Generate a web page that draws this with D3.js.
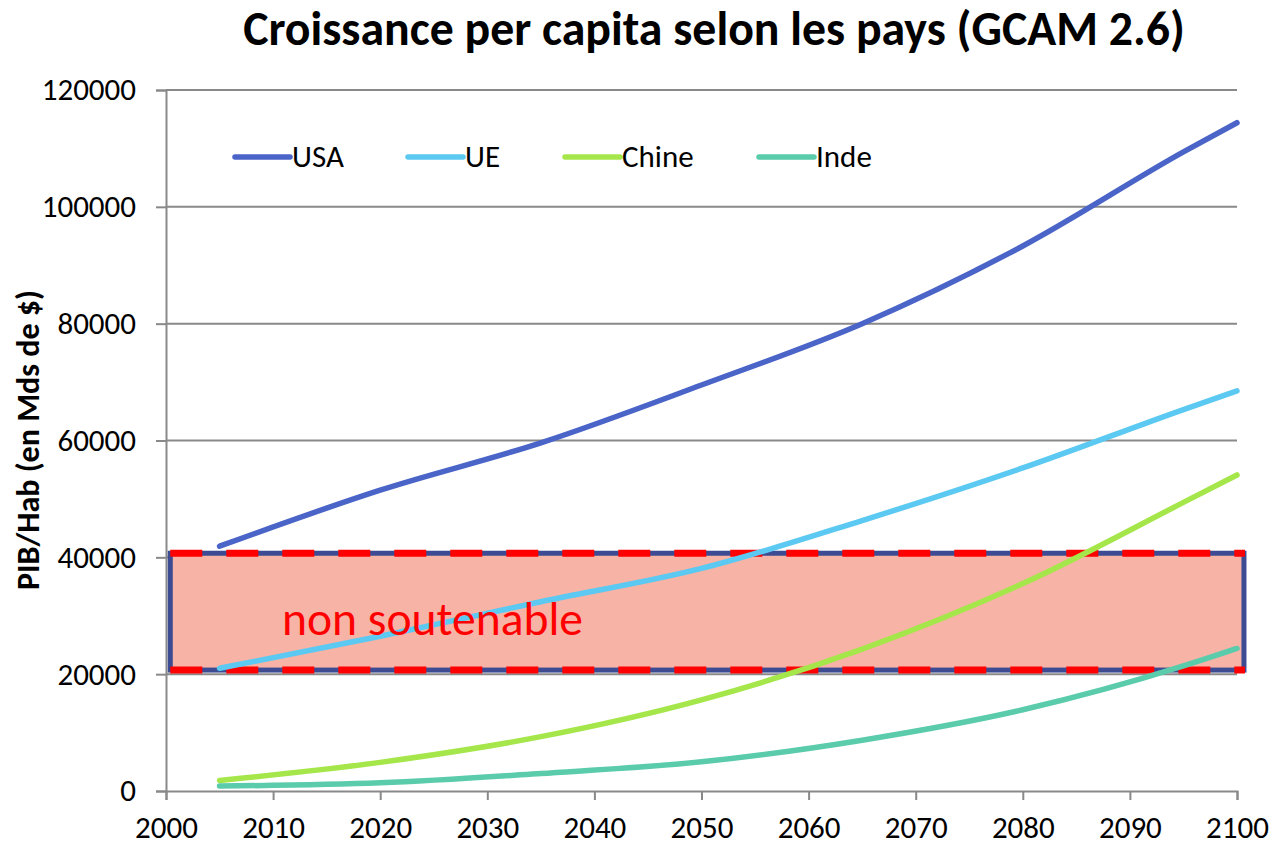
<!DOCTYPE html>
<html>
<head>
<meta charset="utf-8">
<script src="https://cdn.jsdelivr.net/npm/d3@7/dist/d3.min.js"></script>
<style>
  html, body { margin: 0; padding: 0; background: #fff; }
  svg { display: block; font-family: Carlito, Calibri, Lato, "Open Sans", sans-serif; }
</style>
</head>
<body>
<svg id="chart" width="1274" height="846"></svg>
<script>
// GDP per capita by country, GCAM 2.6 scenario
const years = [2005, 2020, 2035, 2050, 2065, 2080, 2095, 2100];
const usa   = [41900, 51500, 59600, 69500, 80000, 93300, 109400, 114400];
const ue    = [21000, 26500, 32400, 38100, 46300, 55300, 65300, 68500];
const chine = [1800, 4900, 9300, 15600, 24300, 35500, 49400, 54100];
const inde  = [850, 1400, 3000, 5000, 8700, 13900, 21400, 24400];

const seriesNames = ["USA", "UE", "Chine", "Inde"];
const seriesValues = [usa, ue, chine, inde];
const seriesColors = ["#4a64c8", "#5bc9f1", "#a5e64a", "#5acbab"];

const xTicks = [2000, 2010, 2020, 2030, 2040, 2050, 2060, 2070, 2080, 2090, 2100];
const yTicks = [0, 20000, 40000, 60000, 80000, 100000, 120000];

// "non soutenable" band (GDP per capita range, years)
const bandYears = [2000.4, 2100.65];
const bandRange = [20700, 40700];
const bandLabel = "non soutenable";

const title = "Croissance per capita selon les pays (GCAM 2.6)";
const yTitle = "PIB/Hab (en Mds de $)";

const svg = d3.select("#chart");
const x = d3.scaleLinear().domain([2000, 2100]).range([166, 1237]);
const y = d3.scaleLinear().domain([0, 120000]).range([791, 90]);
const axisGray = "#898989";
const tickFont = 31;

// scale a text element's font size so it spans a given width
function fitWidth(sel, width) {
  const node = sel.node();
  const fs = parseFloat(sel.attr("font-size"));
  const w = node.getComputedTextLength();
  sel.attr("font-size", (fs * width / w).toFixed(2));
}

// horizontal gridlines
svg.append("g")
  .selectAll("line")
  .data(yTicks.filter(d => d > 0))
  .join("line")
  .attr("x1", x(2000)).attr("x2", x(2100))
  .attr("y1", d => y(d)).attr("y2", d => y(d))
  .attr("stroke", axisGray).attr("stroke-width", 2);

// y axis
const yAxis = svg.append("g")
  .attr("transform", `translate(${x(2000)},0)`)
  .call(d3.axisLeft(y).tickValues(yTicks).tickSize(10).tickPadding(20).tickFormat(d3.format("d")));
yAxis.select(".domain").attr("stroke", axisGray).attr("stroke-width", 2);
yAxis.selectAll(".tick line").attr("stroke", axisGray).attr("stroke-width", 2);
yAxis.selectAll(".tick text")
  .attr("font-size", tickFont).attr("fill", "#000")
  .attr("font-family", "Carlito, Calibri, Lato, sans-serif");

// x axis
const xAxis = svg.append("g")
  .attr("transform", `translate(0,${y(0)})`)
  .call(d3.axisBottom(x).tickValues(xTicks).tickSize(9).tickPadding(16).tickFormat(d3.format("d")));
xAxis.select(".domain").attr("stroke", axisGray).attr("stroke-width", 2);
xAxis.selectAll(".tick line").attr("stroke", axisGray).attr("stroke-width", 2);
xAxis.selectAll(".tick text")
  .attr("font-size", tickFont).attr("fill", "#000")
  .attr("font-family", "Carlito, Calibri, Lato, sans-serif");

// band: fill, navy outline, red dashes along top and bottom
const bx0 = x(bandYears[0]), bx1 = x(bandYears[1]);
const byTop = y(bandRange[1]), byBot = y(bandRange[0]);
const band = svg.append("g");
band.append("rect")
  .attr("x", bx0).attr("y", byTop)
  .attr("width", bx1 - bx0).attr("height", byBot - byTop)
  .attr("fill", "#f7b3a6")
  .attr("stroke", "#3d4b92").attr("stroke-width", 5);
[byTop, byBot].forEach(yy => {
  band.append("line")
    .attr("x1", bx0).attr("x2", bx1 + 1)
    .attr("y1", yy).attr("y2", yy)
    .attr("stroke", "#ff0000").attr("stroke-width", 7)
    .attr("stroke-dasharray", "32,24");
});

// series lines
const line = d3.line()
  .x((d, i) => x(years[i]))
  .y(d => y(d))
  .curve(d3.curveMonotoneX);

svg.append("g")
  .selectAll("path")
  .data(seriesValues)
  .join("path")
  .attr("d", d => line(d))
  .attr("fill", "none")
  .attr("stroke", (d, i) => seriesColors[i])
  .attr("stroke-width", 5.5)
  .attr("stroke-linecap", "round")
  .attr("stroke-linejoin", "round");

// band label
const bl = svg.append("text")
  .attr("x", 282).attr("y", 635)
  .attr("font-size", 36).attr("fill", "#ff0000")
  .text(bandLabel);
fitWidth(bl, 301);

// legend
const legendX = [235, 408, 565, 759];
const legend = svg.append("g");
seriesNames.forEach((name, i) => {
  legend.append("line")
    .attr("x1", legendX[i]).attr("x2", legendX[i] + 55)
    .attr("y1", 157).attr("y2", 157)
    .attr("stroke", seriesColors[i]).attr("stroke-width", 5.5)
    .attr("stroke-linecap", "round");
  legend.append("text")
    .attr("x", legendX[i] + 57).attr("y", 167)
    .attr("font-size", tickFont).attr("fill", "#000")
    .text(name);
});

// title
const t = svg.append("text")
  .attr("x", 714).attr("y", 45)
  .attr("text-anchor", "middle")
  .attr("font-size", 40).attr("font-weight", "bold")
  .text(title);
fitWidth(t, 942);

// y axis title
const yt = svg.append("text")
  .attr("transform", `translate(39,440) rotate(-90)`)
  .attr("text-anchor", "middle")
  .attr("font-size", 22).attr("font-weight", "bold")
  .text(yTitle);
fitWidth(yt, 300);
</script>
</body>
</html>
